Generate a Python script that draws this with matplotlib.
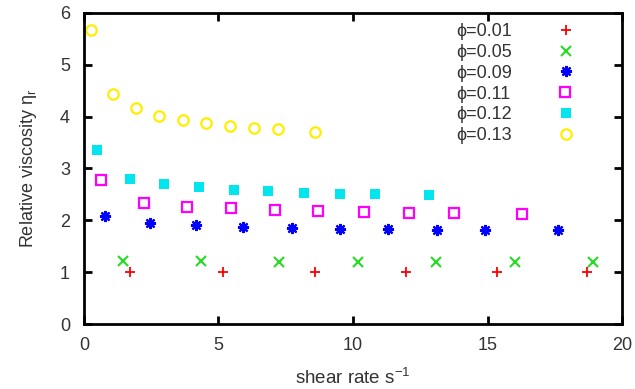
#!/usr/bin/env python3
"""Relative viscosity vs shear rate for several volume fractions."""

import matplotlib
matplotlib.use('Agg')
import matplotlib.pyplot as plt

plt.rcParams['font.family'] = ['Liberation Sans', 'DejaVu Sans']
plt.rcParams['mathtext.fontset'] = 'custom'
plt.rcParams['mathtext.rm'] = 'Liberation Sans'

TEXT = '#333333'

# phi = 0.01
x_001 = [1.73, 5.16, 8.57, 11.96, 15.33, 18.68]
y_001 = [1.01, 1.01, 1.01, 1.01, 1.01, 1.01]
# phi = 0.05
x_005 = [1.46, 4.35, 7.25, 10.19, 13.09, 16.01, 18.91]
y_005 = [1.21, 1.21, 1.20, 1.20, 1.20, 1.20, 1.20]
# phi = 0.09
x_009 = [0.78, 2.47, 4.17, 5.93, 7.72, 9.52, 11.30, 13.10, 14.91, 17.62]
y_009 = [2.08, 1.95, 1.90, 1.88, 1.86, 1.84, 1.83, 1.82, 1.81, 1.81]
# phi = 0.11
x_011 = [0.64, 2.25, 3.83, 5.47, 7.09, 8.70, 10.39, 12.06, 13.74, 16.27]
y_011 = [2.77, 2.34, 2.26, 2.23, 2.20, 2.18, 2.16, 2.15, 2.14, 2.12]
# phi = 0.12
x_012 = [0.49, 1.72, 2.99, 4.26, 5.56, 6.84, 8.19, 9.52, 10.81, 12.81]
y_012 = [3.36, 2.80, 2.70, 2.64, 2.58, 2.56, 2.53, 2.51, 2.51, 2.49]
# phi = 0.13
x_013 = [0.28, 1.09, 1.95, 2.78, 3.67, 4.53, 5.44, 6.33, 7.22, 8.60]
y_013 = [5.66, 4.43, 4.16, 4.02, 3.94, 3.87, 3.81, 3.78, 3.76, 3.70]

series = [
    ('ϕ=0.01', x_001, y_001, dict(marker='+', color='#ff0000', markersize=7, mew=1.3)),
    ('ϕ=0.05', x_005, y_005, dict(marker='x', color='#22dd22', markersize=6.5, mew=1.5)),
    ('ϕ=0.09', x_009, y_009, dict(marker=(8, 2, 0), color='#0000ff', markersize=8, mew=1.6)),
    ('ϕ=0.11', x_011, y_011, dict(marker='s', color='#ff00ff', markersize=7, mew=1.6, mfc='none')),
    ('ϕ=0.12', x_012, y_012, dict(marker='s', color='#00e5ee', markersize=7, mew=0)),
    ('ϕ=0.13', x_013, y_013, dict(marker='o', color='#ffee00', markersize=7.5, mew=1.6, mfc='none')),
]

fig = plt.figure(figsize=(6.35, 3.89), dpi=100)
ax = fig.add_axes([0.132, 0.167, 0.848, 0.800])

for label, xs, ys, style in series:
    ax.plot(xs, ys, linestyle='none', label=label, **style)

ax.set_xlim(0, 20)
ax.set_ylim(0, 6)
ax.set_xticks([0, 5, 10, 15, 20])
ax.set_yticks([0, 1, 2, 3, 4, 5, 6])
ax.tick_params(direction='in', length=6, width=2, top=True, right=True,
               labelsize=13, labelcolor=TEXT)
ax.tick_params(axis='x', pad=9)
ax.tick_params(axis='y', pad=10)
for sp in ax.spines.values():
    sp.set_linewidth(2)

ax.set_xlabel('shear rate s$^\\mathregular{-1}$', fontsize=13.5, color=TEXT, labelpad=10)
ax.set_ylabel('Relative viscosity η$_\\mathregular{r}$', fontsize=13, color=TEXT, labelpad=15)

leg = ax.legend(loc='upper right', frameon=False, markerfirst=False, fontsize=13,
                labelcolor=TEXT, handlelength=1.0, handletextpad=2.5,
                labelspacing=0.21, borderaxespad=0.0, bbox_to_anchor=(0.926, 0.99))
# gnuplot-style key: labels left-aligned, symbol on the right
for col in leg._legend_handle_box.get_children():
    col.align = 'left'

fig.savefig('out.png', dpi=100)
